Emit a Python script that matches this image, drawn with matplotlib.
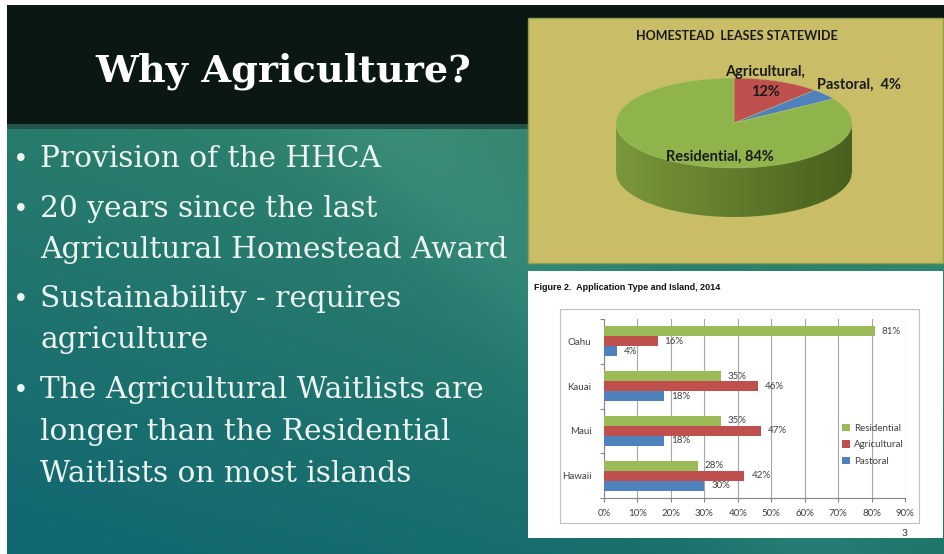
import numpy as np
import matplotlib.pyplot as plt
from matplotlib.patches import Rectangle, Polygon

# pie: homestead leases statewide
pie_labels = ["Agricultural", "Pastoral", "Residential"]
pie_values = [12, 4, 84]
pie_colors = ["#c0504d", "#4f81bd", "#8fb44b"]

# bars: application type and island, 2014
islands = ["Oahu", "Kauai", "Maui", "Hawaii"]
residential = [81, 35, 35, 28]
agricultural = [16, 46, 47, 42]
pastoral = [4, 18, 18, 30]
pct_ticks = [0, 10, 20, 30, 40, 50, 60, 70, 80, 90]

slide_title = "Why Agriculture?"
bullet_lines = [
    (True, "Provision of the HHCA"),
    (True, "20 years since the last"),
    (False, "Agricultural Homestead Award"),
    (True, "Sustainability - requires"),
    (False, "agriculture"),
    (True, "The Agricultural Waitlists are"),
    (False, "longer than the Residential"),
    (False, "Waitlists on most islands"),
]
baselines = [167, 217, 258, 307, 348, 398, 440, 482]

W, H = 945, 554
fig = plt.figure(figsize=(W / 100, H / 100), dpi=100)
fig.patch.set_facecolor("white")

# background axes in pixel units
bg = fig.add_axes([0, 0, 1, 1])
bg.set_xlim(0, W)
bg.set_ylim(H, 0)
bg.axis("off")

# teal slide background
yy, xx = np.mgrid[0:1:120j, 0:1:160j]
tl = np.array([40, 124, 108])
tr = np.array([60, 140, 112])
bl = np.array([16, 102, 114])
br = np.array([28, 116, 104])
img = (tl * (1 - xx)[..., None] * (1 - yy)[..., None] + tr * xx[..., None] * (1 - yy)[..., None]
       + bl * (1 - xx)[..., None] * yy[..., None] + br * xx[..., None] * yy[..., None])
streak = np.exp(-((xx * 1.1 - yy * 0.5 - 0.45) / 0.12) ** 2) * 10
img = np.clip(img + streak[..., None], 0, 255)
bg.imshow(img / 255, extent=(7, W, H, 126), aspect="auto", zorder=0, interpolation="bilinear")

# title bar
bg.add_patch(Rectangle((7, 5), W - 7, 121, fc="#0a1713", ec="none", zorder=1))
bg.add_patch(Rectangle((7, 124), 521, 5, fc="#24514a", ec="none", zorder=1))

bg.text(95, 82, slide_title, color="white", fontsize=27.5, fontweight="bold",
        family="DejaVu Serif", va="baseline", ha="left", zorder=5)

for (is_bullet, line), yb in zip(bullet_lines, baselines):
    if is_bullet:
        bg.text(13, yb, "\u2022", color="#eef4f0", fontsize=19, family="DejaVu Serif",
                va="baseline", ha="left", zorder=5)
    bg.text(40, yb, line, color="#eef4f0", fontsize=21.3, family="DejaVu Serif",
            va="baseline", ha="left", zorder=5)

# pie panel
bg.add_patch(Rectangle((528, 18), 415, 245, fc="#c9bd67", ec="#8ea24c", lw=1, zorder=2))

# bar chart panel
bg.add_patch(Rectangle((528, 271), 415, 267, fc="white", ec="none", zorder=2))
bg.add_patch(Rectangle((560, 309), 359, 214, fc="none", ec="#bfbfbf", lw=0.8, zorder=3))
bg.text(534, 287, "Figure 2.  Application Type and Island, 2014", fontsize=6.5,
        fontweight="bold", family="Liberation Sans", color="#111111", va="center", zorder=5)
bg.text(905, 533, "3", fontsize=7.5, family="Lato", color="#333333", ha="center",
        va="center", zorder=5)

# 3D-looking pie
rx, ry, depth, pad = 118, 45, 49, 12
cx, cy = 734, 123
pax = fig.add_axes([(cx - rx - pad) / W, 1 - (cy + ry + depth + pad) / H,
                    (2 * rx + 2 * pad) / W, (2 * ry + depth + 2 * pad) / H])
pax.set_zorder(4)
d = depth / ry
xs = np.linspace(-1, 1, 200)
side = np.column_stack([np.r_[xs, 1, -1], np.r_[-np.sqrt(1 - xs ** 2) - d, 0, 0]])
grad_x = np.linspace(0, 1, 200)[None, :]
side_rgb = (np.array([122, 152, 58]) * (1 - grad_x[..., None])
            + np.array([72, 96, 30]) * grad_x[..., None])
side_rgb = np.repeat(side_rgb, 2, axis=0) / 255
simg = pax.imshow(side_rgb, extent=(-1, 1, -1 - d, 0), aspect="auto", zorder=1)
clip = Polygon(side, closed=True, fc="none", ec="none")
pax.add_patch(clip)
simg.set_clip_path(clip)
pax.pie(pie_values, colors=pie_colors, startangle=90, counterclock=False,
        wedgeprops=dict(lw=0.3, ec="#b7c77a"))
pax.set_aspect("auto")
pax.set_xlim(-1 - pad / rx, 1 + pad / rx)
pax.set_ylim(-1 - d - pad / ry, 1 + pad / ry)
pax.axis("off")

# overlay for pie texts
ov = fig.add_axes([0, 0, 1, 1])
ov.set_zorder(10)
ov.patch.set_alpha(0)
ov.set_xlim(0, W)
ov.set_ylim(H, 0)
ov.axis("off")
ov.text(737, 36, "HOMESTEAD  LEASES STATEWIDE", fontsize=9, fontweight="bold",
        family="Lato", color="#1a1a1a", ha="center", va="center")
lab_kw = dict(fontsize=10.5, fontweight="bold", family="Lato", color="#1a1a1a",
              ha="center", va="center")
ov.text(765, 82, f"{pie_labels[0]},\n{pie_values[0]}%", linespacing=1.5, **lab_kw)
ov.text(859, 85, f"{pie_labels[1]},  {pie_values[1]}%", **lab_kw)
ov.text(720, 157, f"{pie_labels[2]}, {pie_values[2]}%", **lab_kw)

# bar chart
ax = fig.add_axes([604 / W, 1 - 498 / H, 301 / W, 179 / H])
ax.set_zorder(4)
ax.patch.set_alpha(0)
y = np.arange(len(islands))
h = 0.225
series = [(residential, -h, "#9bbb59", "Residential"),
          (agricultural, 0, "#c0504d", "Agricultural"),
          (pastoral, h, "#4f81bd", "Pastoral")]
for vals, off, col, name in series:
    bars = ax.barh(y + off, vals, height=h, color=col, label=name, zorder=3)
    ax.bar_label(bars, labels=[f"{v}%" for v in vals], padding=5, fontsize=7,
                 family="Lato", color="#404040")
ax.set_ylim(len(islands) - 0.5, -0.5)
ax.set_xlim(0, 90)
ax.set_xticks(pct_ticks)
ax.set_xticklabels([f"{t}%" for t in pct_ticks], fontsize=7, family="Lato", color="#404040")
ax.set_yticks(y)
ax.set_yticklabels(islands, fontsize=7, family="Lato", color="#404040")
ax.set_yticks(np.arange(len(islands) + 1) - 0.5, minor=True)
ax.tick_params(axis="y", which="major", length=0, pad=9)
ax.tick_params(axis="y", which="minor", length=3, color="#868686", width=0.8)
ax.tick_params(axis="x", length=3, color="#868686", width=0.8, pad=5)
ax.grid(axis="x", color="#a6a6a6", lw=0.8, zorder=0)
for s in ["top", "right"]:
    ax.spines[s].set_visible(False)
for s in ["left", "bottom"]:
    ax.spines[s].set_color("#868686")
    ax.spines[s].set_linewidth(0.8)
ax.legend(loc="upper left", bbox_to_anchor=(842 / W, 1 - 424 / H),
          bbox_transform=fig.transFigure, frameon=False,
          prop=dict(family="Lato", size=7), handlelength=0.8, handleheight=0.8,
          handletextpad=0.4, labelspacing=0.75, borderpad=0, borderaxespad=0,
          labelcolor="#404040")

plt.savefig("out.png", dpi=100)
